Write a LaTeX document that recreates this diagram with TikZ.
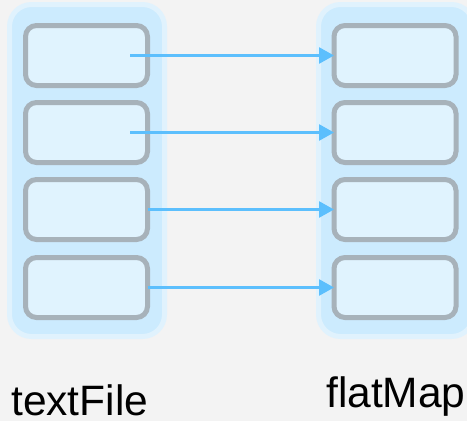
\documentclass[tikz,border=0pt]{standalone}
\usepackage{fontspec}
\setmainfont{Liberation Sans}
\usetikzlibrary{arrows.meta}
\definecolor{bg}{HTML}{F3F3F3}
\definecolor{contfill}{HTML}{CCEBFE}
\definecolor{contedge}{HTML}{E0F2FD}
\definecolor{boxfill}{HTML}{E0F3FE}
\definecolor{boxedge}{HTML}{A7B2BA}
\definecolor{arrowc}{HTML}{5CBFFD}
\tikzset{
  container/.style={draw=contedge, fill=contfill, line width=5pt, rounded corners=22pt},
  cell/.style={draw=boxedge, fill=boxfill, line width=5pt, rounded corners=11pt,
    minimum width=122pt, minimum height=60pt, inner sep=0pt, outer sep=0pt},
  link/.style={draw=arrowc, line width=2.7pt, -{Triangle[length=15pt,width=16pt]}},
  lbl/.style={font=\fontsize{42.5}{42.5}\selectfont, inner sep=0pt, anchor=base west, text=black}
}
\begin{document}
\begin{tikzpicture}[x=1pt,y=-1pt]
\useasboundingbox (0,0) rectangle (467,421);
\fill[bg] (0,0) rectangle (467,421);
\begin{scope}
\clip (0,0) rectangle (467,421);
\draw[container] (9.5,4.5) rectangle (164.5,336.5);
\draw[container] (318.5,4.5) rectangle (473.5,336.5);
\end{scope}
\node[cell] (l1) at (86.5,55.5) {};
\node[cell] (l2) at (86.5,132.5) {};
\node[cell] (l3) at (86.5,209.5) {};
\node[cell] (l4) at (86.5,287.5) {};
\node[cell] (r1) at (395,55.5) {};
\node[cell] (r2) at (395,132.5) {};
\node[cell] (r3) at (395,209.5) {};
\node[cell] (r4) at (395,287.5) {};
\coordinate (s1) at (130,55.5);
\coordinate (s2) at (130,132.5);
\draw[link] (s1) -- (r1.west);
\draw[link] (s2) -- (r2.west);
\draw[link] (l3.east) -- (r3.west);
\draw[link] (l4.east) -- (r4.west);
\node[lbl] (t1) at (11,415.5) {textFile};
\node[lbl] (t2) at (326,407) {flatMap};
\end{tikzpicture}
\end{document}
